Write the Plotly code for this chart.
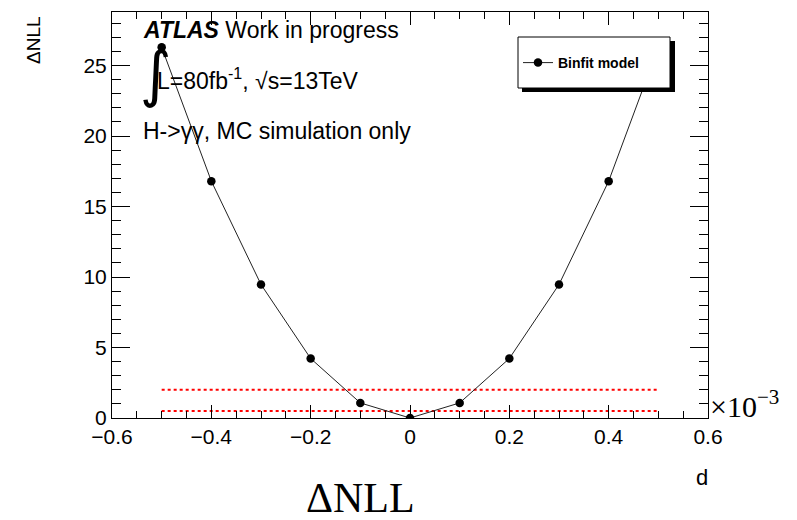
import plotly.graph_objects as go

# ---- data (d in units of 1e-3) ----
d_values = [-0.5, -0.4, -0.3, -0.2, -0.1, 0.0, 0.1, 0.2, 0.3, 0.4, 0.5]
dnll_values = [26.3, 16.8, 9.47, 4.22, 1.07, 0.0, 1.07, 4.22, 9.47, 16.8, 26.3]
ref_x = [-0.5, 0.5]
ref_levels = [0.5, 2.0]
series_name = "Binfit model"
x_tickvals = [-0.6, -0.4, -0.2, 0.0, 0.2, 0.4, 0.6]
x_ticktext = ["−0.6", "−0.4", "−0.2", "0", "0.2", "0.4", "0.6"]

W, H = 797, 520
L, R, T, B = 112, 708, 12, 418

def xp(px):
    return (px - L) / (R - L)

def yp(py):
    return (B - py) / (B - T)

fig = go.Figure()

for lvl in ref_levels:
    fig.add_trace(go.Scatter(
        x=ref_x, y=[lvl, lvl], mode="lines",
        line=dict(color="red", width=2, dash="dot"),
        showlegend=False, hoverinfo="skip"))

fig.add_trace(go.Scatter(
    x=d_values, y=dnll_values, mode="lines+markers", name="<b>" + series_name + "</b>",
    line=dict(color="#222222", width=1),
    marker=dict(color="black", size=8.5, symbol="circle")))

sans = "Liberation Sans"
serif = "Liberation Serif"

axis_common = dict(
    showline=True, linecolor="black", linewidth=1, mirror="allticks",
    ticks="inside", tickcolor="black", showgrid=False, zeroline=False,
    tickfont=dict(family=sans, size=21, color="black"),
)

fig.update_xaxes(
    range=[-0.6, 0.6], tickmode="array", tickvals=x_tickvals, ticktext=x_ticktext, ticklen=13,
    minor=dict(dtick=0.05, tick0=-0.6, ticklen=7, ticks="inside", tickcolor="black", showgrid=False),
    **axis_common)
fig.update_yaxes(
    range=[0, 28.8], tickmode="linear", tick0=0, dtick=5, ticklen=18,
    minor=dict(dtick=1, tick0=0, ticklen=9, ticks="inside", tickcolor="black", showgrid=False),
    **axis_common)

shapes = [
    dict(type="rect", xref="paper", yref="paper", x0=xp(522), x1=xp(675), y0=yp(92), y1=yp(41),
         fillcolor="black", line=dict(width=0), layer="above"),
    dict(type="rect", xref="paper", yref="paper", x0=xp(518), x1=xp(670), y0=yp(88), y1=yp(37),
         fillcolor="white", line=dict(color="black", width=1), layer="above"),
]

annotations = [
    dict(text="<b><i>ATLAS</i></b> Work in progress", x=xp(141), y=yp(30), xanchor="left", yanchor="middle",
         font=dict(family=sans, size=23, color="black")),
    dict(text="∫", x=xp(138), y=yp(73), xanchor="left", yanchor="middle",
         font=dict(family="DejaVu Sans", size=61, color="black")),
    dict(text="L=80fb<sup>-1</sup>, √s=13TeV", x=xp(155), y=yp(79), xanchor="left", yanchor="middle",
         font=dict(family=sans, size=23, color="black")),
    dict(text="H->γγ, MC simulation only", x=xp(141), y=yp(131), xanchor="left", yanchor="middle",
         font=dict(family=sans, size=23, color="black")),
    dict(text="ΔNLL", x=xp(33), y=yp(40), xanchor="center", yanchor="middle", textangle=-90,
         font=dict(family=sans, size=19, color="black")),
    dict(text="d", x=xp(702), y=yp(477), xanchor="center", yanchor="middle",
         font=dict(family=sans, size=22, color="black")),
    dict(text="×10<sup>−3</sup>", x=xp(708), y=yp(404), xanchor="left", yanchor="middle",
         font=dict(family=serif, size=30, color="black")),
    dict(text="ΔNLL", x=xp(360), y=yp(523), xanchor="center", yanchor="bottom",
         font=dict(family=serif, size=42, color="black")),
]
for a in annotations:
    a.update(xref="paper", yref="paper", showarrow=False)

fig.update_layout(
    width=W, height=H,
    margin=dict(l=L, r=W - R, t=T, b=H - B, pad=0),
    paper_bgcolor="white", plot_bgcolor="white",
    shapes=shapes, annotations=annotations,
    legend=dict(x=xp(518), y=yp(63), xanchor="left", yanchor="middle",
                bgcolor="rgba(0,0,0,0)", borderwidth=0,
                font=dict(family=sans, size=14, color="black")),
    showlegend=True,
)

fig.write_html("out.html")
